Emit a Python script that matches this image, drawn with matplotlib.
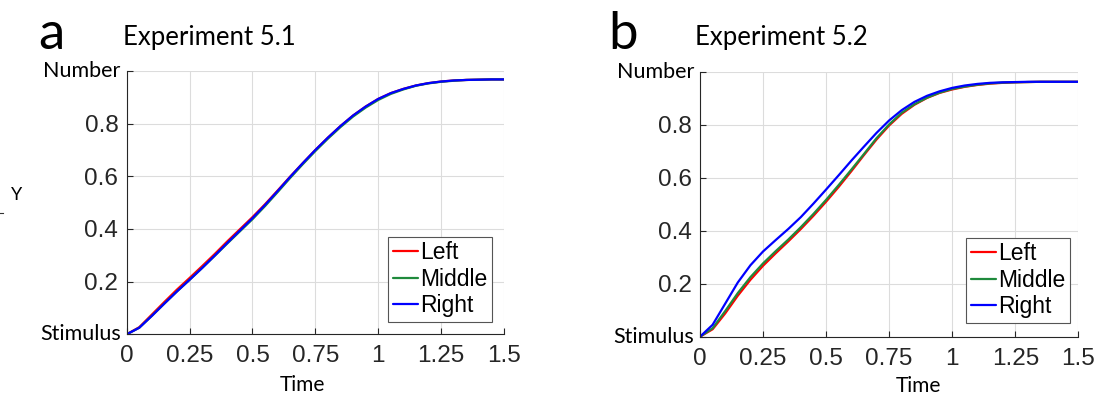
import matplotlib
matplotlib.use("Agg")
import matplotlib.pyplot as plt
from matplotlib.lines import Line2D

# Time samples shared by all curves
time = [0.00, 0.05, 0.10, 0.15, 0.20, 0.25, 0.30, 0.35, 0.40, 0.45,
        0.50, 0.55, 0.60, 0.65, 0.70, 0.75, 0.80, 0.85, 0.90, 0.95,
        1.00, 1.05, 1.10, 1.15, 1.20, 1.25, 1.30, 1.35, 1.40, 1.45, 1.50]

# Experiment 5.1
exp1_left = [0.000, 0.027, 0.075, 0.123, 0.170, 0.214, 0.259, 0.305, 0.353, 0.399,
             0.445, 0.494, 0.546, 0.599, 0.650, 0.700, 0.747, 0.791, 0.831, 0.865,
             0.894, 0.916, 0.932, 0.945, 0.954, 0.960, 0.964, 0.966, 0.967, 0.968, 0.968]
exp1_middle = [0.000, 0.025, 0.070, 0.117, 0.163, 0.207, 0.252, 0.298, 0.345, 0.391,
               0.437, 0.487, 0.540, 0.594, 0.646, 0.696, 0.743, 0.787, 0.827, 0.861,
               0.890, 0.913, 0.930, 0.944, 0.953, 0.959, 0.963, 0.966, 0.967, 0.968, 0.968]
exp1_right = [0.000, 0.025, 0.070, 0.117, 0.163, 0.207, 0.252, 0.299, 0.347, 0.394,
              0.441, 0.491, 0.544, 0.598, 0.650, 0.700, 0.747, 0.791, 0.831, 0.865,
              0.894, 0.916, 0.932, 0.945, 0.954, 0.960, 0.964, 0.966, 0.967, 0.968, 0.968]

# Experiment 5.2
exp2_left = [0.000, 0.028, 0.088, 0.155, 0.215, 0.268, 0.315, 0.360, 0.407, 0.457,
             0.510, 0.566, 0.625, 0.686, 0.745, 0.798, 0.842, 0.876, 0.902, 0.921,
             0.934, 0.944, 0.951, 0.956, 0.959, 0.961, 0.962, 0.963, 0.963, 0.963, 0.963]
exp2_middle = [0.000, 0.032, 0.097, 0.165, 0.225, 0.277, 0.323, 0.367, 0.414, 0.464,
               0.517, 0.573, 0.631, 0.690, 0.750, 0.802, 0.846, 0.878, 0.903, 0.922,
               0.936, 0.945, 0.952, 0.957, 0.960, 0.961, 0.962, 0.963, 0.963, 0.963, 0.963]
exp2_right = [0.000, 0.045, 0.125, 0.205, 0.270, 0.322, 0.365, 0.407, 0.452, 0.503,
              0.556, 0.610, 0.665, 0.718, 0.770, 0.817, 0.856, 0.887, 0.910, 0.927,
              0.940, 0.949, 0.955, 0.959, 0.961, 0.962, 0.963, 0.963, 0.963, 0.963, 0.963]

series_names = ["Left", "Middle", "Right"]
series_colors = ["#ff0000", "#1f8a3c", "#0000ff"]
xticks = [0, 0.25, 0.5, 0.75, 1, 1.25, 1.5]
xtick_labels = ["0", "0.25", "0.5", "0.75", "1", "1.25", "1.5"]
yticks = [0, 0.2, 0.4, 0.6, 0.8, 1.0]
ytick_labels = ["", "0.2", "0.4", "0.6", "0.8", ""]
y_end_labels = ["Stimulus", "Number"]
titles = ["Experiment 5.1", "Experiment 5.2"]
panel_letters = ["a", "b"]

W, H = 1104, 396
fig = plt.figure(figsize=(W / 100, H / 100), dpi=100)

TICK_FONT = "Liberation Sans"
TEXT_FONT = "Lato"
AX_COLOR = "#262626"


def px(x, y):
    """Convert pixel position (from top-left) to figure fraction."""
    return x / W, 1 - y / H


def draw_panel(rect, ys, legend_anchor, title_xy, letter_xy, title, letter, time_xy):
    ax = fig.add_axes(rect)
    for vals, name, col in zip(ys, series_names, series_colors):
        ax.plot(time, vals, color=col, lw=1.6, label=name, solid_capstyle="round")
    ax.set_xlim(0, 1.5)
    ax.set_ylim(0, 1.0)
    ax.set_xticks(xticks)
    ax.set_xticklabels(xtick_labels)
    ax.set_yticks(yticks)
    ax.set_yticklabels(ytick_labels)
    ax.grid(True, color="#dcdcdc", lw=0.8)
    ax.set_axisbelow(True)
    for s in ("top", "right"):
        ax.spines[s].set_visible(False)
    for s in ("left", "bottom"):
        ax.spines[s].set_color(AX_COLOR)
        ax.spines[s].set_linewidth(0.8)
    ax.tick_params(direction="in", length=4, width=0.8, color=AX_COLOR,
                   labelcolor=AX_COLOR, labelsize=17.5)
    ax.tick_params(axis="x", pad=8)
    ax.tick_params(axis="y", pad=6)
    for lab in ax.get_xticklabels() + ax.get_yticklabels():
        lab.set_fontfamily(TICK_FONT)
    # word labels at the two ends of the y axis
    off = -6 / (rect[2] * W)
    for yv, txt in zip((yticks[0], yticks[-1]), y_end_labels):
        ax.text(off, yv, txt, transform=ax.get_yaxis_transform(),
                fontfamily=TEXT_FONT, fontsize=15.5, color="black",
                ha="right", va="center", clip_on=False)
    leg = ax.legend(loc="lower right", bbox_to_anchor=legend_anchor, borderaxespad=0,
                    fancybox=False, framealpha=1, edgecolor="#555555",
                    prop={"family": TICK_FONT, "size": 16.5},
                    handlelength=1.1, handletextpad=0.1, labelspacing=0.15,
                    borderpad=0.2)
    leg.get_frame().set_linewidth(0.8)
    for t in leg.get_texts():
        t.set_color("black")
    fig.text(*px(*title_xy), title, fontfamily=TEXT_FONT, fontsize=18.5,
             ha="left", va="baseline")
    fig.text(*px(*letter_xy), letter, fontfamily=TEXT_FONT, fontsize=38,
             ha="left", va="baseline")
    fig.text(*px(*time_xy), "Time", fontfamily=TEXT_FONT, fontsize=15,
             ha="center", va="center")
    return ax


draw_panel([126.7 / W, 61.7 / H, 377.3 / W, 263.3 / H],
           [exp1_left, exp1_middle, exp1_right], (0.968, 0.047),
           (123, 45), (38, 49), titles[0], panel_letters[0], (302.7, 385))
draw_panel([700 / W, 59.3 / H, 378.3 / W, 264.7 / H],
           [exp2_left, exp2_middle, exp2_right], (0.979, 0.052),
           (695, 45), (608, 49), titles[1], panel_letters[1], (918, 386))

# Row label on the far left
fig.text(*px(17, 195), "Y", fontfamily=TEXT_FONT, fontsize=13,
         ha="center", va="center")
fig.add_artist(Line2D([0 / W, 3 / W], [1 - 213 / H, 1 - 213 / H],
                      color="#333333", lw=0.8))

fig.savefig("out.png", dpi=100)
